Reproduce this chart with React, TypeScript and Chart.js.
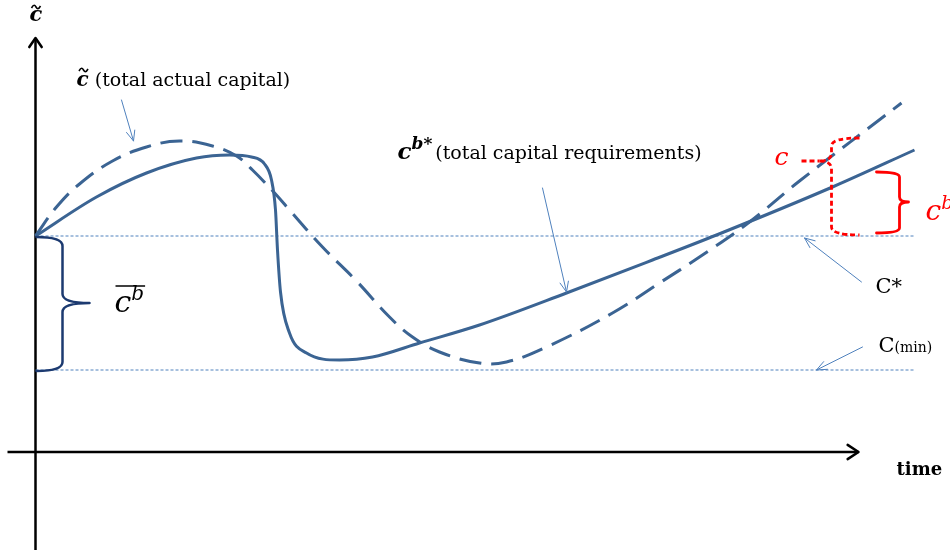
import React, { useEffect, useRef } from "react";
import { Chart, registerables } from "chart.js";

Chart.register(...registerables);

// ---- data (time, capital) ----
const solidTime = [0, 61, 111, 161, 194, 216, 229, 236, 240, 242, 245, 254, 271, 304, 337, 384, 444, 531, 617, 681, 797, 879];
const solidCap = [216, 255, 279, 294, 297, 295, 288, 272, 242, 202, 160, 119, 99, 92, 95, 109, 127, 159, 192, 217, 265, 302];

const dashTime = [0, 21, 44, 77, 111, 144, 177, 201, 217, 240, 254, 287, 321, 354, 377, 404, 444, 471, 511, 577, 624, 664, 714, 764, 866];
const dashCap = [216, 245, 268, 291, 305, 311, 306, 296, 282, 258, 242, 205, 171, 135, 115, 100, 89, 90, 105, 139, 169, 195, 230, 271, 349];

const cStarLevel = 216;
const cMinLevel = 82;
const levelRange = [0, 878];

const timeAxisRange = [-28, 823];
const capAxisRange = [-98, 414];

const TIME_MIN = -35.5;
const TIME_MAX = 914.5;
const CAP_MIN = -104;
const CAP_MAX = 452;

// braces: [edgeT, topC, bottomC, spineT, tipT, tipC, radius]
const blueBrace = [1, 215, 81, 27, 54, 149, 9];
const redBrace = [841, 280, 219, 864, 873, 250, 5];
const redDashBrace = [824, 314, 217, 796, 784, 291, 8];
const redLeader = [766, 784, 291];

// label arrows: [tailT, tailC, headT, headC]
const labelArrows = [
  [86, 352, 98, 311],
  [507, 264, 531, 160],
  [826, 170, 769, 214],
  [827, 105, 781, 82],
];

const SERIF = '"DejaVu Serif", "Liberation Serif", serif';
const CURVE = "#3b6493";
const THIN = "#4f81bd";

type Run = { text: string; font: string; dy?: number; gap?: number };

function drawRuns(ctx: CanvasRenderingContext2D, x: number, y: number, runs: Run[], color: string) {
  ctx.fillStyle = color;
  ctx.textBaseline = "alphabetic";
  ctx.textAlign = "left";
  let cx = x;
  for (const r of runs) {
    ctx.font = r.font;
    cx += r.gap || 0;
    ctx.fillText(r.text, cx, y + (r.dy || 0));
    cx += ctx.measureText(r.text).width;
  }
  return cx;
}

function drawTilde(ctx: CanvasRenderingContext2D, cx: number, cy: number, w: number) {
  ctx.save();
  ctx.strokeStyle = "#000";
  ctx.lineWidth = 1.6;
  ctx.beginPath();
  ctx.moveTo(cx - w / 2, cy + 1);
  ctx.bezierCurveTo(cx - w / 4, cy - 3, cx - w / 8, cy - 2, cx, cy);
  ctx.bezierCurveTo(cx + w / 8, cy + 2, cx + w / 4, cy + 3, cx + w / 2, cy - 1);
  ctx.stroke();
  ctx.restore();
}

function drawBrace(ctx: CanvasRenderingContext2D, xe: number, yt: number, yb: number, xs: number, xt: number, ytip: number, r: number) {
  ctx.beginPath();
  ctx.moveTo(xe, yt);
  ctx.quadraticCurveTo(xs, yt, xs, yt + r);
  ctx.lineTo(xs, ytip - r);
  ctx.quadraticCurveTo(xs, ytip, xt, ytip);
  ctx.moveTo(xt, ytip);
  ctx.quadraticCurveTo(xs, ytip, xs, ytip + r);
  ctx.lineTo(xs, yb - r);
  ctx.quadraticCurveTo(xs, yb, xe, yb);
  ctx.stroke();
}

function arrowHead(ctx: CanvasRenderingContext2D, x1: number, y1: number, x2: number, y2: number, len: number, ang: number) {
  const a = Math.atan2(y2 - y1, x2 - x1);
  ctx.beginPath();
  ctx.moveTo(x2 - len * Math.cos(a - ang), y2 - len * Math.sin(a - ang));
  ctx.lineTo(x2, y2);
  ctx.lineTo(x2 - len * Math.cos(a + ang), y2 - len * Math.sin(a + ang));
  ctx.stroke();
}

const overlay = {
  id: "overlay",
  afterDatasetsDraw(chart: any) {
    const ctx: CanvasRenderingContext2D = chart.ctx;
    const X = (t: number) => chart.scales.x.getPixelForValue(t);
    const Y = (c: number) => chart.scales.y.getPixelForValue(c);
    ctx.save();
    ctx.lineCap = "round";
    ctx.lineJoin = "round";

    // axis arrowheads
    ctx.strokeStyle = "#000";
    ctx.lineWidth = 2.5;
    arrowHead(ctx, X(0), Y(0), X(0), Y(capAxisRange[1]), 11, 0.6);
    arrowHead(ctx, X(0), Y(0), X(timeAxisRange[1]), Y(0), 13, 0.58);

    // label arrows
    ctx.strokeStyle = THIN;
    ctx.lineWidth = 1;
    for (const [t1, c1, t2, c2] of labelArrows) {
      ctx.beginPath();
      ctx.moveTo(X(t1), Y(c1));
      ctx.lineTo(X(t2), Y(c2));
      ctx.stroke();
      arrowHead(ctx, X(t1), Y(c1), X(t2), Y(c2), 11, 0.4);
    }

    // blue brace
    ctx.strokeStyle = "#1c3a70";
    ctx.lineWidth = 2.5;
    {
      const [e, tc, bc, s, tp, tipc, r] = blueBrace;
      drawBrace(ctx, X(e), Y(tc), Y(bc), X(s), X(tp), Y(tipc), r);
    }
    // red solid brace
    ctx.strokeStyle = "#ff0000";
    ctx.lineWidth = 2.8;
    {
      const [e, tc, bc, s, tp, tipc, r] = redBrace;
      drawBrace(ctx, X(e), Y(tc), Y(bc), X(s), X(tp), Y(tipc), r);
    }
    // red dashed brace
    ctx.setLineDash([5, 3]);
    ctx.lineCap = "butt";
    {
      const [e, tc, bc, s, tp, tipc, r] = redDashBrace;
      drawBrace(ctx, X(e), Y(tc), Y(bc), X(s), X(tp), Y(tipc), r);
      ctx.beginPath();
      ctx.moveTo(X(redLeader[0]), Y(redLeader[2]));
      ctx.lineTo(X(redLeader[1]), Y(redLeader[2]));
      ctx.stroke();
    }
    ctx.setLineDash([]);

    // texts
    // top axis label c~
    drawRuns(ctx, X(-6), Y(431), [{ text: "c", font: `bold italic 21px ${SERIF}` }], "#000");
    drawTilde(ctx, X(0) + 0.5, Y(445), 9);

    // c~ (total actual capital)
    {
      const x0 = X(41);
      drawRuns(ctx, x0, Y(366), [
        { text: "c", font: `bold italic 20px ${SERIF}` },
        { text: " (total actual capital)", font: `19px ${SERIF}` },
      ], "#000");
      drawTilde(ctx, x0 + 7, Y(382), 9);
    }

    // c^{b*} (total capital requirements)
    drawRuns(ctx, X(362), Y(293), [
      { text: "c", font: `bold italic 23px ${SERIF}` },
      { text: "b*", font: `bold italic 17px ${SERIF}`, dy: -10 },
      { text: "(total capital requirements)", font: `19px ${SERIF}`, gap: 3 },
    ], "#000");

    // red c (dashed brace)
    drawRuns(ctx, X(739), Y(287), [{ text: "c", font: `italic 25px ${SERIF}` }], "#ff0000");
    // red c^b
    drawRuns(ctx, X(890), Y(232), [
      { text: "c", font: `italic 28px ${SERIF}` },
      { text: "b", font: `italic 19px ${SERIF}`, dy: -11 },
    ], "#ff0000");

    // c-bar^b
    {
      const x0 = X(79);
      const end = drawRuns(ctx, x0, Y(140), [
        { text: "c", font: `italic 30px ${SERIF}` },
        { text: "b", font: `italic 20px ${SERIF}`, dy: -12 },
      ], "#000");
      ctx.strokeStyle = "#000";
      ctx.lineWidth = 1.5;
      ctx.beginPath();
      ctx.moveTo(x0 + 1, Y(166));
      ctx.lineTo(end + 1, Y(166));
      ctx.stroke();
    }

    // c*
    drawRuns(ctx, X(840), Y(159), [{ text: "C*", font: `21px ${SERIF}` }], "#000");
    // C(min)
    drawRuns(ctx, X(843), Y(100), [
      { text: "C", font: `21px ${SERIF}` },
      { text: "(min)", font: `14px ${SERIF}` },
    ], "#000");
    // time
    drawRuns(ctx, X(861), Y(-23), [{ text: "time", font: `bold 18px ${SERIF}` }], "#000");

    ctx.restore();
  },
};

export default function App() {
  const ref = useRef<HTMLCanvasElement | null>(null);
  useEffect(() => {
    if (!ref.current) return;
    const pts = (ts: number[], cs: number[]) => ts.map((t, i) => ({ x: t, y: cs[i] }));
    const chart = new Chart(ref.current, {
      type: "scatter",
      data: {
        datasets: [
          {
            label: "c~ (total actual capital)",
            data: pts(dashTime, dashCap),
            showLine: true,
            borderColor: CURVE,
            borderWidth: 3,
            borderDash: [22, 10],
            pointRadius: 0,
            tension: 0.4,
          } as any,
          {
            label: "c^b* (total capital requirements)",
            data: pts(solidTime, solidCap),
            showLine: true,
            borderColor: CURVE,
            borderWidth: 3,
            pointRadius: 0,
            cubicInterpolationMode: "monotone",
          } as any,
          {
            label: "c*",
            data: levelRange.map((t) => ({ x: t, y: cStarLevel })),
            showLine: true,
            borderColor: THIN,
            borderWidth: 1,
            borderDash: [3, 2],
            pointRadius: 0,
          },
          {
            label: "c(min)",
            data: levelRange.map((t) => ({ x: t, y: cMinLevel })),
            showLine: true,
            borderColor: THIN,
            borderWidth: 1,
            borderDash: [3, 2],
            pointRadius: 0,
          },
          {
            label: "time axis",
            data: timeAxisRange.map((t) => ({ x: t, y: 0 })),
            showLine: true,
            borderColor: "#000",
            borderWidth: 2.5,
            pointRadius: 0,
          },
          {
            label: "capital axis",
            data: capAxisRange.map((c) => ({ x: 0, y: c })),
            showLine: true,
            borderColor: "#000",
            borderWidth: 2.5,
            pointRadius: 0,
          },
        ],
      },
      options: {
        animation: false,
        responsive: false,
        devicePixelRatio: 1,
        layout: { padding: 0 },
        scales: {
          x: { type: "linear", min: TIME_MIN, max: TIME_MAX, display: false },
          y: { type: "linear", min: CAP_MIN, max: CAP_MAX, display: false },
        },
        plugins: { legend: { display: false }, tooltip: { enabled: false } },
      },
      plugins: [overlay],
    });
    return () => chart.destroy();
  }, []);
  return (
    <div style={{ position: "absolute", left: 0, top: 0, width: 950, height: 556, background: "#fff" }}>
      <canvas ref={ref} width={950} height={556} />
    </div>
  );
}
